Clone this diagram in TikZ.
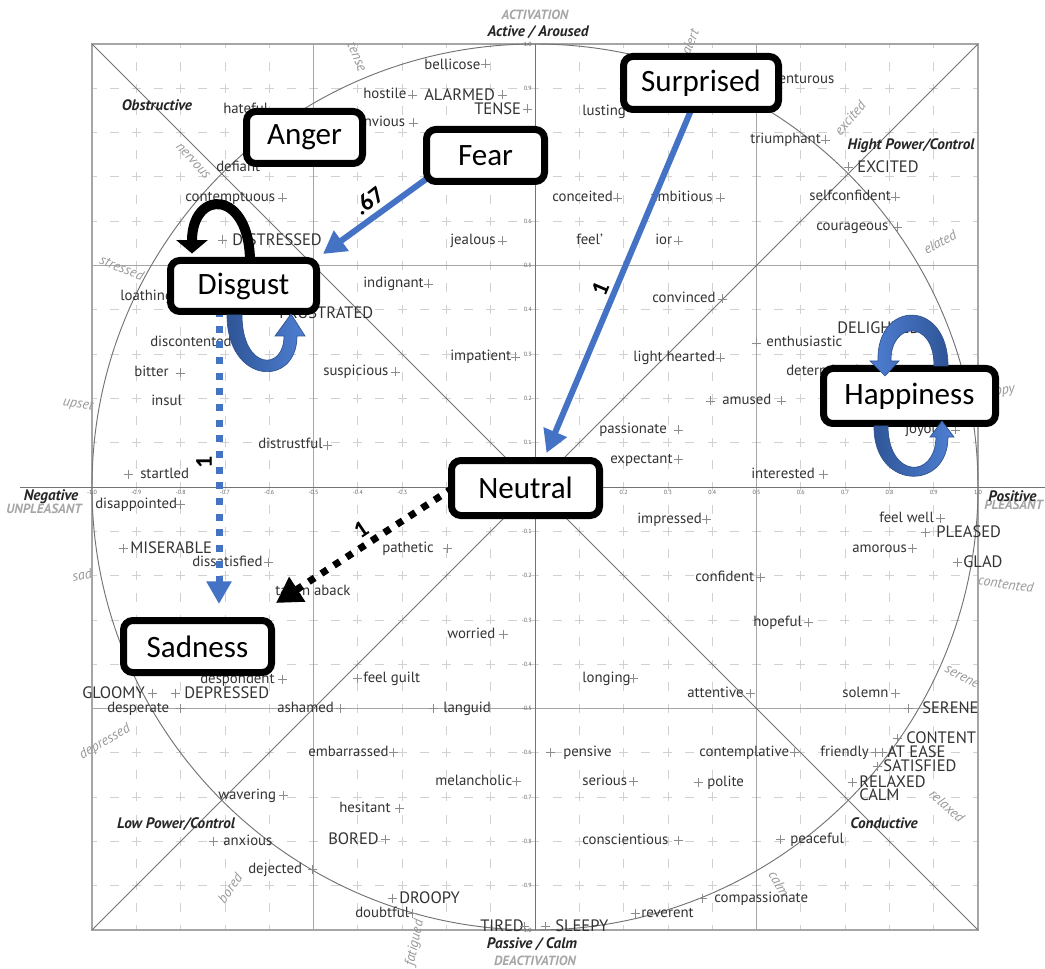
\documentclass[tikz,border=0pt]{standalone}
\usepackage{fontspec}
\setmainfont{PT Sans}
\newfontfamily\calfont{Carlito}
\usetikzlibrary{arrows.meta,calc}
\pgfdeclarelayer{bg}
\pgfdeclarelayer{conn}
\pgfsetlayers{bg,conn,main}
\definecolor{pblue}{HTML}{4472C4}
\definecolor{ribdark}{HTML}{2F5597}
\definecolor{riblight}{HTML}{4F7FD3}
\definecolor{ribline}{HTML}{2F528F}
\newcommand\Wl[4]{\node[wl] (#1) at (#2,#3+4) {#4};}
\newcommand\Wc[4]{\node[wc] (#1) at (#2,#3+5.8) {#4};}
\newcommand\Pm[2]{\draw[pm] (#1-4.5,#2) -- (#1+4.5,#2) (#1,#2-4.5) -- (#1,#2+4.5);}
\begin{document}
\begin{tikzpicture}[x=0.75pt,y=-0.75pt,
  wl/.style={anchor=base west, inner sep=0pt, font=\fontsize{11.1}{12}\selectfont, text=black!80},
  wc/.style={anchor=base west, inner sep=0pt, font=\fontsize{12.4}{14}\selectfont, text=black!80},
  cat/.style={inner sep=0pt, font=\fontsize{11.4}{13}\selectfont\bfseries\itshape, text=black!85},
  gcat/.style={inner sep=0pt, font=\fontsize{10}{12}\selectfont\bfseries\itshape, text=black!35},
  circ/.style={inner sep=0pt, font=\fontsize{10.5}{12}\selectfont\itshape, text=black!40},
  tick/.style={inner sep=0pt, font=\fontsize{4.5}{5}\selectfont, text=black!60},
  pm/.style={draw=black!45, line width=0.5pt},
  minor/.style={draw=black!18, line width=0.6pt, dash pattern=on 6.75pt off 9.86pt, dash phase=3.375pt},
  major/.style={draw=black!35, line width=0.8pt},
  guide/.style={draw=black!55, line width=0.7pt},
  emo/.style={draw=black, line width=5.25pt, rounded corners=7pt, fill=white, inner sep=0pt, font=\calfont\fontsize{23.3}{26}\selectfont},
  elab/.style={inner sep=0pt, font=\calfont\bfseries\fontsize{18}{20}\selectfont},
  bluearrow/.style={draw=pblue, line width=4.5pt, -{Triangle[length=17pt,width=18pt]}},
  bluedot/.style={draw=pblue, line width=5.25pt, dash pattern=on 5.25pt off 6.5pt, -{Triangle[length=17pt,width=18pt]}},
  blackdot/.style={draw=black, line width=5.25pt, dash pattern=on 5.25pt off 6pt, -{Triangle[length=19pt,width=21pt]}},
  loopblack/.style={draw=black, line width=7.5pt, -{Triangle[length=10pt,width=23pt]}},
  ribbonL/.style={left color=ribdark, right color=riblight, draw=ribline, line width=0.5pt},
  ribbonR/.style={left color=riblight, right color=ribdark, draw=ribline, line width=0.5pt}
]
\useasboundingbox (0,0) rectangle (1045,969);

\begin{pgfonlayer}{bg}
\fill[white] (0,0) rectangle (1045,969);
% ---- grid ----
\foreach \i in {-9,-8,-7,-6,-4,-3,-2,-1,1,2,3,4,6,7,8,9}{
  \draw[minor] ({535+\i*44.3},44) -- ({535+\i*44.3},930);
  \draw[minor] (92,{487+\i*44.3}) -- (978,{487+\i*44.3});
}
\draw[major] (313.5,44) -- (313.5,930) (756.5,44) -- (756.5,930)
             (92,265.5) -- (978,265.5) (92,708.5) -- (978,708.5);
\draw[major] (92,44) rectangle (978,930);
\draw[guide] (20,487) -- (1045,487) (535,44) -- (535,930);
\draw[guide] (92,44) -- (978,930) (92,930) -- (978,44);
\draw[guide] (535,487) circle[radius=332.25pt];

% ---- tick labels ----
\foreach \v/\t in {1/0.1,2/0.2,3/0.3,4/0.4,5/0.5,6/0.6,7/0.7,8/0.8,9/0.9,10/1.0}{
  \node[tick, anchor=east] (ty\v) at (532,{487-\v*44.3}) {\t};
  \node[tick, anchor=east] (tyn\v) at (532,{487+\v*44.3}) {-\t};
}
\foreach \v/\t in {2/0.2,3/0.3,4/0.4,5/0.5,6/0.6,7/0.7,8/0.8,9/0.9,10/1.0}{
  \node[tick] (tx\v) at ({535+\v*44.3},492) {\t};
}
\foreach \v/\t in {3/0.3,4/0.4,5/0.5,6/0.6,7/0.7,8/0.8,9/0.9,10/1.0}{
  \node[tick] (txn\v) at ({535-\v*44.3},492) {-\t};
}

% ---- circumference labels ----
\node[circ, rotate=-67] (g-tense) at (357,57) {tense};
\node[circ, rotate=68] (g-alert) at (690,42) {alert};
\node[circ, rotate=50] (g-excited) at (850,118) {excited};
\node[circ, rotate=28] (g-elated) at (940,242) {elated};
\node[circ, rotate=8, anchor=east] (g-happy) at (1015,389) {happy};
\node[circ, rotate=-8] (g-contented) at (1006,584) {contented};
\node[circ, rotate=-28] (g-serene) at (962,677) {serene};
\node[circ, rotate=-42] (g-relaxed) at (947,806) {relaxed};
\node[circ, rotate=-60] (g-calm) at (779,884) {calm};
\node[circ, rotate=78] (g-fatigued) at (415,943) {fatigued};
\node[circ, rotate=55] (g-bored) at (230,888) {bored};
\node[circ, rotate=30] (g-depressed) at (105,742) {depressed};
\node[circ, rotate=12] (g-sad) at (82,575) {sad};
\node[circ, rotate=-10] (g-upset) at (78,405) {upset};
\node[circ, rotate=-22] (g-stressed) at (122,268) {stressed};
\node[circ, rotate=-47] (g-nervous) at (193,161) {nervous};

% ---- category labels ----
\node[gcat] (c-activ) at (535,15) {ACTIVATION};
\node[cat] (c-act) at (538,32) {Active / Aroused};
\node[cat] (c-pas) at (532,944) {Passive / Calm};
\node[gcat] (c-deact) at (535,961) {DEACTIVATION};
\node[gcat] (c-unpl) at (44,509) {UNPLEASANT};
\node[cat] (c-neg) at (51,497) {Negative};
\node[gcat, anchor=west] (c-pleas) at (984,505) {PLEASANT};
\node[cat, anchor=west] (c-pos) at (988,496) {Positive};
\node[cat] (c-obs) at (157,105) {Obstructive};
\node[cat] (c-high) at (911,146) {Hight Power/Control};
\node[cat] (c-low) at (176,824) {Low Power/Control};
\node[cat] (c-cond) at (884,823) {Conductive};

% ---- words: upper left ----
\Wl{w-bellicose}{424}{66}{bellicose} \Pm{485}{64}
\Wl{w-hostile}{363}{95}{hostile} \Pm{412}{95}
\Wc{w-ALARMED}{424}{95}{ALARMED} \Pm{502}{95}
\Wc{w-TENSE}{474}{109}{TENSE} \Pm{527}{109}
\Wl{w-envious}{356}{123}{envious} \Pm{413}{123}
\Wl{w-hateful}{223}{110}{hateful}
\Wl{w-defiant}{216}{168}{defiant}
\Wl{w-contemptuous}{185}{198}{contemptuous} \Pm{282}{198}
\Pm{222}{240} \Wc{w-DISTRESSED}{232}{240}{DISTRESSED}
\Wl{w-jealous}{450}{241}{jealous} \Pm{502}{241}
\Wl{w-indignant}{363}{284}{indignant} \Pm{428}{284}
\Wl{w-loathing}{120}{297}{loathing}
\Wc{w-FRUSTRATED}{279}{313}{FRUSTRATED}
\Wl{w-discontented}{150}{343}{discontented}
\Wl{w-impatient}{450}{357}{impatient} \Pm{515}{357}
\Wl{w-suspicious}{323}{372}{suspicious} \Pm{395}{372}
\Wl{w-bitter}{134}{373}{bitter} \Pm{180}{373}
\Wl{w-insul}{151}{402}{insul}
\Wl{w-distrustful}{258}{445}{distrustful} \Pm{327}{445}
\Pm{128}{474} \Wl{w-startled}{140}{474}{startled}

% ---- words: lower left ----
\Wl{w-disappointed}{95}{504}{disappointed} \Pm{180}{504}
\Pm{123}{548} \Wc{w-MISERABLE}{130}{548}{MISERABLE}
\Wl{w-pathetic}{382}{548}{pathetic} \Pm{447}{548}
\Wl{w-dissatisfied}{192}{562}{dissatisfied} \Pm{268}{562}
\Wl{w-takenaback}{275}{591}{taken aback}
\Wl{w-worried}{447}{634}{worried} \Pm{503}{634}
\Wl{w-despondent}{200}{679}{despondent} \Pm{282}{679}
\Pm{357}{678} \Wl{w-feelguilt}{363}{678}{feel guilt}
\Wc{w-GLOOMY}{82}{693}{GLOOMY} \Pm{152}{693}
\Pm{175}{693} \Wc{w-DEPRESSED}{184}{693}{DEPRESSED}
\Wl{w-desperate}{107}{708}{desperate} \Pm{180}{708}
\Wl{w-ashamed}{277}{708}{ashamed} \Pm{340}{708}
\Pm{433}{708} \Wl{w-languid}{443}{708}{languid}
\Wl{w-embarrassed}{308}{752}{embarrassed} \Pm{393}{752}
\Wl{w-melancholic}{435}{781}{melancholic} \Pm{516}{781}
\Wl{w-wavering}{218}{795}{wavering} \Pm{283}{795}
\Wl{w-hesitant}{339}{808}{hesitant} \Pm{399}{808}
\Pm{213}{841} \Wl{w-anxious}{223}{841}{anxious}
\Wc{w-BORED}{328}{839}{BORED} \Pm{385}{839}
\Wl{w-dejected}{248}{869}{dejected} \Pm{312}{869}
\Pm{392}{898} \Wc{w-DROOPY}{399}{898}{DROOPY}
\Wl{w-doubtful}{355}{913}{doubtful} \Pm{412}{913}
\Wc{w-TIRED}{480}{926}{TIRED} \Pm{524}{926}

% ---- words: upper right ----
\Wl{w-adventurous}{756}{80}{adventurous}
\Wl{w-lusting}{582}{112}{lusting}
\Wl{w-triumphant}{750}{140}{triumphant} \Pm{825}{140}
\Pm{848}{167} \Wc{w-EXCITED}{857}{167}{EXCITED}
\Wl{w-conceited}{552}{198}{conceited} \Pm{617}{198}
\Wl{w-ambitious}{650}{198}{ambitious} \Pm{720}{198}
\Wl{w-selfconfident}{809}{197}{selfconfident} \Pm{895}{197}
\Wl{w-courageous}{816}{227}{courageous} \Pm{897}{227}
\Wl{w-feel}{576}{241}{feel’}
\Wl{w-ior}{655}{241}{ior} \Pm{678}{241}
\Wl{w-convinced}{652}{299}{convinced} \Pm{722}{299}
\Wc{w-DELIGHTED}{837}{328}{DELIGHTED}
\Pm{756}{343} \Wl{w-enthusiastic}{766}{343}{enthusiastic}
\Wl{w-lighthearted}{633}{358}{light hearted} \Pm{720}{358}
\Wl{w-determined}{786}{372}{determined}
\Pm{710}{401} \Wl{w-amused}{722}{401}{amused} \Pm{781}{401}
\Wl{w-passionate}{599}{430}{passionate} \Pm{678}{430}
\Wl{w-joyous}{905}{430}{joyous} \Pm{955}{430}
\Wl{w-expectant}{610}{459}{expectant} \Pm{678}{459}
\Wl{w-interested}{751}{474}{interested} \Pm{823}{474}

% ---- words: lower right ----
\Wl{w-impressed}{637}{519}{impressed} \Pm{706}{519}
\Wl{w-feelwell}{879}{518}{feel well} \Pm{940}{518}
\Pm{925}{532} \Wc{w-PLEASED}{936}{532}{PLEASED}
\Wl{w-amorous}{852}{548}{amorous} \Pm{912}{548}
\Pm{957}{562} \Wc{w-GLAD}{963}{562}{GLAD}
\Wl{w-confident}{695}{577}{confident} \Pm{760}{577}
\Wl{w-hopeful}{753}{622}{hopeful} \Pm{808}{622}
\Wl{w-longing}{582}{678}{longing} \Pm{633}{678}
\Wl{w-attentive}{687}{693}{attentive} \Pm{750}{693}
\Wl{w-solemn}{842}{693}{solemn} \Pm{895}{693}
\Pm{908}{708} \Wc{w-SERENE}{922}{708}{SERENE}
\Pm{897}{738} \Wc{w-CONTENT}{906}{738}{CONTENT}
\Pm{550}{752} \Wl{w-pensive}{563}{752}{pensive}
\Wl{w-contemplative}{699}{752}{contemplative} \Pm{794}{752}
\Wl{w-friendly}{820}{752}{friendly} \Pm{875}{752}
\Pm{882}{752} \Wc{w-ATEASE}{887}{752}{AT EASE}
\Pm{877}{766} \Wc{w-SATISFIED}{883}{766}{SATISFIED}
\Wl{w-serious}{582}{781}{serious} \Pm{633}{781}
\Pm{698}{782} \Wl{w-polite}{707}{782}{polite}
\Pm{852}{782} \Wc{w-RELAXED}{859}{782}{RELAXED}
\Wc{w-CALM}{859}{795}{CALM}
\Wl{w-conscientious}{582}{840}{conscientious} \Pm{678}{840}
\Pm{780}{839} \Wl{w-peaceful}{790}{839}{peaceful}
\Pm{702}{898} \Wl{w-compassionate}{714}{898}{compassionate}
\Pm{635}{913} \Wl{w-reverent}{641}{913}{reverent}
\Pm{545}{926} \Wc{w-SLEEPY}{555}{926}{SLEEPY}
\end{pgfonlayer}

% ---- emotion boxes ----
\node[emo, minimum width=87pt, minimum height=39pt] (Anger) at (304.5,137.5) {Anger};
\node[emo, minimum width=88.5pt, minimum height=39pt] (Fear) at (485.5,155.5) {Fear};
\node[emo, minimum width=116.25pt, minimum height=39.75pt] (Surprised) at (701,83) {Surprised};
\node[emo, minimum width=109.5pt, minimum height=38.25pt] (Disgust) at (243.5,286) {Disgust};
\node[emo, minimum width=111pt, minimum height=41.25pt] (Neutral) at (525.5,488) {Neutral};
\node[emo, minimum width=129pt, minimum height=41.25pt] (Happiness) at (909.5,396) {Happiness};
\node[emo, minimum width=111pt, minimum height=39pt] (Sadness) at (197.5,646.5) {Sadness};

% ---- connectors (under the boxes, over the chart) ----
\begin{pgfonlayer}{conn}
\draw[bluearrow] ($(Fear.south west)+(6,-8)$) -- ($(Disgust.north east)+(3,-3)$);
\draw[bluearrow] ($(Surprised.south)+(-9,-5)$) -- ($(Neutral.north)+(21,-4)$);
\draw[bluedot] ($(Disgust.south)+(-24.5,-5)$) -- ($(Sadness.north)+(21.5,-13)$);
\draw[blackdot] ($(Neutral.west)+(5,0)$) -- ($(Sadness.north east)+(1,-14)$);
\draw[loopblack] ($(Disgust.north)+(6.5,5)$) .. controls +(0,-73) and +(0,-65) .. ($(Disgust.north)+(-51.5,-3.5)$);
\end{pgfonlayer}

% ---- ribbon self-loops ----
\shade[ribbonL] (227,315) .. controls (227,385) and (297,388) .. (297,336) -- (305,336) -- (291,314) -- (275,336) -- (284,336) .. controls (284,372) and (242,370) .. (242,315) -- cycle;
\shade[ribbonR] (948,366) .. controls (948,298) and (876,300) .. (878,361) -- (870,361) -- (885,376) -- (899,361) -- (891,361) .. controls (890,322) and (934,318) .. (934,366) -- cycle;
\shade[ribbonL] (874,426) .. controls (873,490) and (948,492) .. (948,437) -- (954,437) -- (942,421) -- (930,437) -- (936,437) .. controls (935,480) and (888,478) .. (888,426) -- cycle;

% ---- connector labels ----
\node[elab, rotate=38] (l-fear) at (369,201) {.67};
\node[elab, rotate=67] (l-surp) at (601,289) {1};
\node[elab, rotate=90] (l-disg) at (204,462) {1};
\node[elab, rotate=34] (l-neut) at (361,530) {1};
\end{tikzpicture}
\end{document}
